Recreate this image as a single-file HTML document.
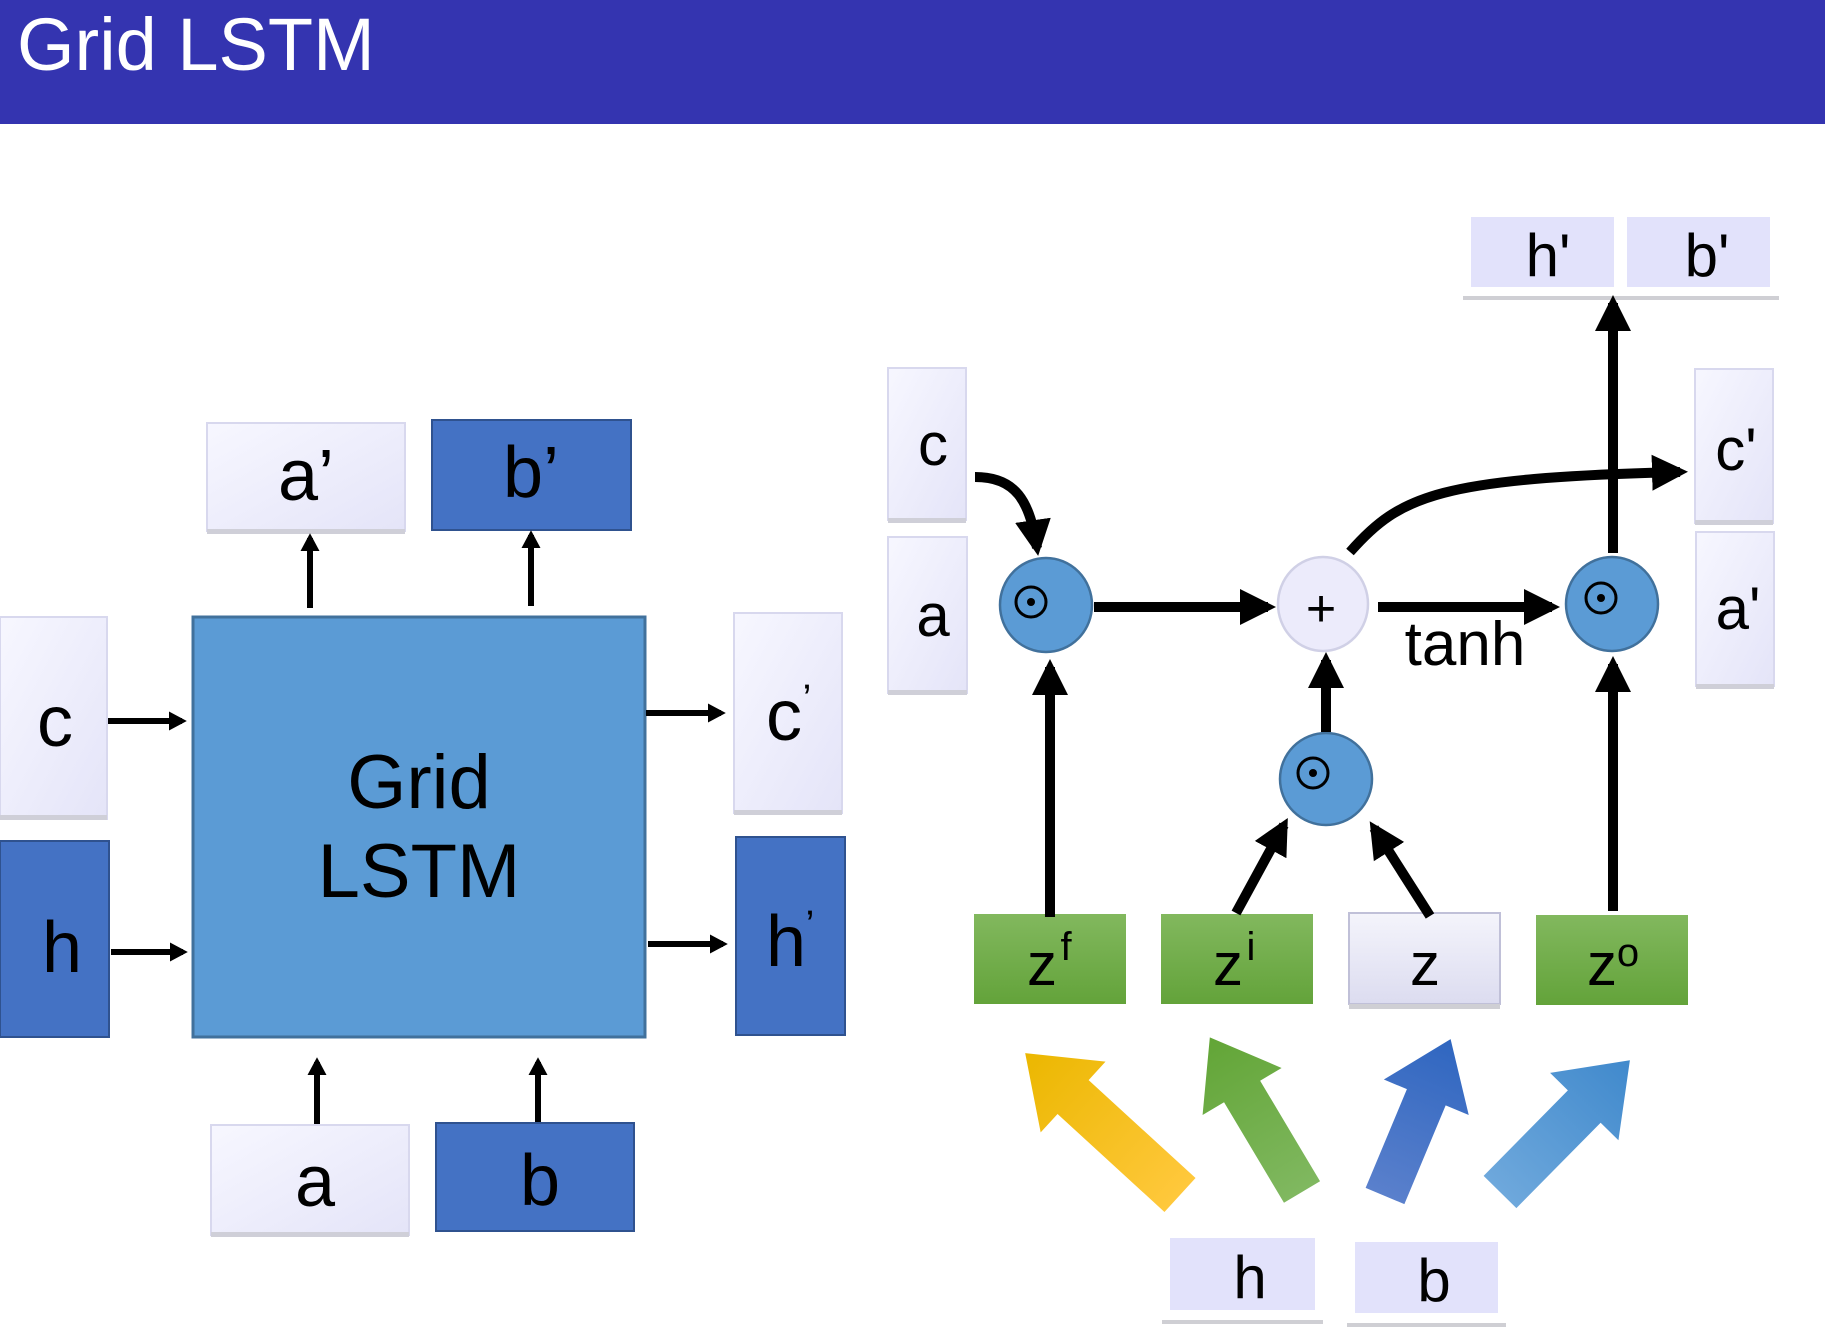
<!DOCTYPE html>
<html><head><meta charset="utf-8"><style>
html,body{margin:0;padding:0;background:#fff;}
svg{display:block;font-family:"Liberation Sans",Arial,sans-serif;}
</style></head><body>
<svg width="1825" height="1335" viewBox="0 0 1825 1335" xmlns="http://www.w3.org/2000/svg">
<defs>
<linearGradient id="lv" x1="0" y1="0" x2="1" y2="1"><stop offset="0" stop-color="#f7f7ff"/><stop offset="1" stop-color="#e4e4f8"/></linearGradient>
<linearGradient id="gr" x1="0" y1="0" x2="0" y2="1"><stop offset="0" stop-color="#82b85e"/><stop offset="1" stop-color="#63a33a"/></linearGradient>
<linearGradient id="zg" x1="0" y1="0" x2="0" y2="1"><stop offset="0" stop-color="#f4f4fb"/><stop offset="1" stop-color="#dcdcf0"/></linearGradient>
<linearGradient id="ay" x1="0" y1="0" x2="1" y2="0"><stop offset="0" stop-color="#ffc83c"/><stop offset="1" stop-color="#ebb700"/></linearGradient>
<linearGradient id="ag" x1="0" y1="0" x2="1" y2="0"><stop offset="0" stop-color="#80b860"/><stop offset="1" stop-color="#62a536"/></linearGradient>
<linearGradient id="ab" x1="0" y1="0" x2="1" y2="0"><stop offset="0" stop-color="#5a80cc"/><stop offset="1" stop-color="#2f66c0"/></linearGradient>
<linearGradient id="al" x1="0" y1="0" x2="1" y2="0"><stop offset="0" stop-color="#6ea8dc"/><stop offset="1" stop-color="#4089cc"/></linearGradient>
<marker id="ah" markerWidth="4" markerHeight="4" refX="2.2" refY="2" orient="auto" markerUnits="strokeWidth"><path d="M0,0.4 L3,2 L0,3.6z" fill="#000"/></marker>
<marker id="ahs" markerWidth="5" markerHeight="5" refX="2.8" refY="2.5" orient="auto" markerUnits="strokeWidth"><path d="M0,0.7 L3.6,2.5 L0,4.3z" fill="#000"/></marker>
</defs>
<rect x="0" y="0" width="1825" height="124" fill="#3434b0"/>
<text x="17" y="70" font-size="74" fill="#fff">Grid LSTM</text>

<!-- left diagram -->
<g font-size="72" text-anchor="middle">
<rect x="207" y="423" width="198" height="108" fill="url(#lv)" stroke="#d8d8ee" stroke-width="2"/><rect x="207" y="529" width="198" height="5" fill="#cfcfd8"/>
<text x="306" y="500">a’</text>
<rect x="432" y="420" width="199" height="110" fill="#4472c4" stroke="#2f528f" stroke-width="2"/>
<text x="531" y="497">b’</text>
<rect x="193" y="617" width="452" height="420" fill="#5b9bd5" stroke="#41719c" stroke-width="3"/>
<text x="419" y="808" font-size="76">Grid</text>
<text x="419" y="897" font-size="76">LSTM</text>
<rect x="0" y="617" width="107" height="202" fill="url(#lv)" stroke="#d8d8ee" stroke-width="2"/><rect x="0" y="815" width="107" height="5" fill="#cfcfd8"/>
<text x="55" y="746">c</text>
<rect x="0" y="841" width="109" height="196" fill="#4472c4" stroke="#2f528f" stroke-width="2"/>
<text x="62" y="972">h</text>
<rect x="734" y="613" width="108" height="200" fill="url(#lv)" stroke="#d8d8ee" stroke-width="2"/><rect x="734" y="810" width="108" height="5" fill="#cfcfd8"/>
<text x="784" y="740">c</text><text x="807" y="712" font-size="40">’</text>
<rect x="736" y="837" width="109" height="198" fill="#4472c4" stroke="#2f528f" stroke-width="2"/>
<text x="786" y="966">h</text><text x="810" y="938" font-size="40">’</text>
<rect x="211" y="1125" width="198" height="110" fill="url(#lv)" stroke="#d8d8ee" stroke-width="2"/><rect x="211" y="1232" width="198" height="5" fill="#cfcfd8"/>
<text x="315" y="1206">a</text>
<rect x="436" y="1123" width="198" height="108" fill="#4472c4" stroke="#2f528f" stroke-width="2"/>
<text x="540" y="1205">b</text>
</g>
<g stroke="#000" stroke-width="6" marker-end="url(#ah)" fill="none">
<line x1="310" y1="608" x2="310" y2="538"/>
<line x1="531" y1="606" x2="531" y2="535"/>
<line x1="108" y1="721" x2="182" y2="721"/>
<line x1="111" y1="952" x2="183" y2="952"/>
<line x1="646" y1="713" x2="721" y2="713"/>
<line x1="648" y1="944" x2="723" y2="944"/>
<line x1="317" y1="1124" x2="317" y2="1062"/>
<line x1="538" y1="1122" x2="538" y2="1062"/>
</g>

<!-- right diagram -->
<g font-size="60" text-anchor="middle">
<rect x="888" y="368" width="78" height="152" fill="url(#lv)" stroke="#d8d8ee" stroke-width="2"/><rect x="888" y="518" width="78" height="5" fill="#cfcfd8"/>
<text x="933" y="465">c</text>
<rect x="888" y="537" width="79" height="156" fill="url(#lv)" stroke="#d8d8ee" stroke-width="2"/><rect x="888" y="690" width="79" height="5" fill="#cfcfd8"/>
<text x="933" y="636">a</text>
<rect x="1471" y="217" width="143" height="70" fill="#e2e2fb"/>
<text x="1548" y="276">h'</text>
<rect x="1627" y="217" width="143" height="70" fill="#e2e2fb"/>
<text x="1707" y="276">b'</text>
<rect x="1463" y="296" width="316" height="4" fill="#cfcfd4"/>
<rect x="1695" y="369" width="78" height="154" fill="url(#lv)" stroke="#d8d8ee" stroke-width="2"/><rect x="1695" y="520" width="78" height="5" fill="#cfcfd8"/>
<text x="1736" y="470">c'</text>
<rect x="1696" y="532" width="78" height="154" fill="url(#lv)" stroke="#d8d8ee" stroke-width="2"/><rect x="1696" y="684" width="78" height="5" fill="#cfcfd8"/>
<text x="1738" y="629">a'</text>
<rect x="1170" y="1238" width="145" height="72" fill="#e2e2fb"/>
<text x="1250" y="1298">h</text>
<rect x="1355" y="1242" width="143" height="71" fill="#e2e2fb"/>
<text x="1434" y="1301">b</text>
<rect x="1162" y="1320" width="161" height="4" fill="#cfcfd4"/>
<rect x="1347" y="1323" width="159" height="4" fill="#cfcfd4"/>

<rect x="974" y="914" width="152" height="90" fill="url(#gr)"/>
<text x="1042" y="985">z</text><text x="1066" y="960" font-size="40">f</text>
<rect x="1161" y="914" width="152" height="90" fill="url(#gr)"/>
<text x="1228" y="985">z</text><text x="1251" y="960" font-size="40">i</text>
<rect x="1349" y="913" width="151" height="91" fill="url(#zg)" stroke="#c0c0d8" stroke-width="2"/><rect x="1349" y="1004" width="151" height="5" fill="#cfcfd4"/>
<text x="1425" y="985">z</text>
<rect x="1536" y="915" width="152" height="90" fill="url(#gr)"/>
<text x="1602" y="985">z</text><text x="1628" y="966" font-size="40">o</text>
</g>

<!-- circles -->
<g stroke="#41719c" stroke-width="2.5">
<ellipse cx="1046" cy="605" rx="46" ry="47" fill="#5b9bd5"/>
<ellipse cx="1323" cy="604" rx="45" ry="47" fill="#ecebfb" stroke="#d0d0e6"/>
<ellipse cx="1612" cy="604" rx="46" ry="47" fill="#5b9bd5"/>
<ellipse cx="1326" cy="779" rx="46" ry="46" fill="#5b9bd5"/>
</g>
<g fill="none" stroke="#000" stroke-width="3">
<circle cx="1031" cy="602" r="15"/><circle cx="1601" cy="598" r="15"/><circle cx="1313" cy="773" r="15"/>
</g>
<g fill="#000"><circle cx="1031" cy="602" r="4"/><circle cx="1601" cy="598" r="4"/><circle cx="1313" cy="773" r="4"/></g>
<text x="1321" y="626" font-size="52" text-anchor="middle">+</text>
<text x="1465" y="665" font-size="62" text-anchor="middle">tanh</text>

<g stroke="#000" stroke-width="10" fill="none" marker-end="url(#ahs)">
<line x1="1094" y1="607" x2="1268" y2="607"/>
<line x1="1378" y1="607" x2="1552" y2="607"/>
<path d="M975,477 C1015,477 1030,500 1037,548"/>
<line x1="1050" y1="917" x2="1050" y2="667"/>
<line x1="1236" y1="913" x2="1284" y2="825"/>
<line x1="1430" y1="916" x2="1374" y2="828"/>
<line x1="1326" y1="732" x2="1326" y2="660"/>
<line x1="1613" y1="911" x2="1613" y2="664"/>
<line x1="1613" y1="553" x2="1613" y2="303"/>
<path d="M1350,552 C1400,495 1440,478 1680,472"/>
</g>

<!-- block arrows -->
<g>
<polygon transform="translate(1180,1195) rotate(222.5)" points="0,-23 145,-23 145,-48 210,0 145,48 145,23 0,23" fill="url(#ay)"/>
<polygon transform="translate(1302,1192) rotate(239.2)" points="0,-21 117,-21 117,-46 180,0 117,46 117,21 0,21" fill="url(#ag)"/>
<polygon transform="translate(1385,1196) rotate(-67.3)" points="0,-21 107,-21 107,-46 170,0 107,46 107,21 0,21" fill="url(#ab)"/>
<polygon transform="translate(1500,1192) rotate(-45.4)" points="0,-23 120,-23 120,-48 185,0 120,48 120,23 0,23" fill="url(#al)"/>
</g>
</svg>
</body></html>
